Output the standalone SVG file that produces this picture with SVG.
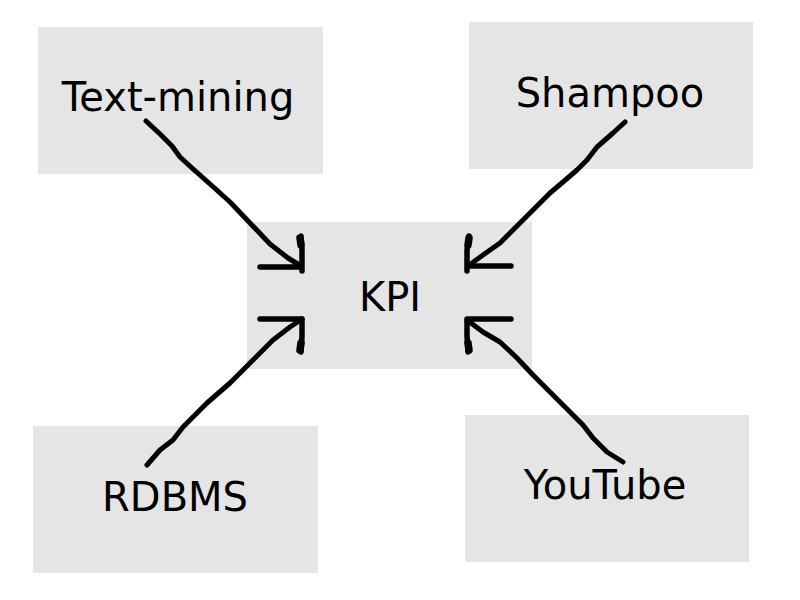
<svg xmlns="http://www.w3.org/2000/svg" width="800" height="600" viewBox="0 0 800 600">
<style>
.box{fill:#e5e5e5;stroke:none}
.lbl{font-family:"DejaVu Sans","Liberation Sans",sans-serif;font-size:40px;fill:#000;text-anchor:middle}
.wire{fill:none;stroke:#000;stroke-width:5;stroke-linecap:round;stroke-linejoin:round}
.head{fill:none;stroke:#000;stroke-width:5.5;stroke-linecap:round;stroke-linejoin:round}
.blob{fill:none;stroke:#000;stroke-width:7.5;stroke-linecap:round}
</style>
<rect width="800" height="600" fill="#fff"/>
<g id="node-textmining"><rect class="box" x="38" y="27" width="285" height="147"/><text class="lbl" x="178" y="111">Text-mining</text></g>
<g id="node-shampoo"><rect class="box" x="469" y="22" width="284" height="147"/><text class="lbl" x="610" y="107">Shampoo</text></g>
<g id="node-kpi"><rect class="box" x="247" y="222" width="285" height="147"/><text class="lbl" x="390" y="311">KPI</text></g>
<g id="node-rdbms"><rect class="box" x="33" y="426" width="285" height="147"/><text class="lbl" x="175" y="511">RDBMS</text></g>
<g id="node-youtube"><rect class="box" x="465" y="415" width="284" height="147"/><text class="lbl" x="605" y="499">YouTube</text></g>
<g id="connectors">
<path class="wire" d="M146,121 L160,134 L172,146 L180,157 L192,168 L210,184 L230,202 L250,223 L270,244 L288,258 L301,266"/>
<path class="head" d="M260,267 L302,267 M301,236 L302,250 L302,271"/>
<path class="blob" d="M300,238 L301,245"/>
<path class="wire" d="M625,122 L613,133 L597,147 L587,160 L577,170 L563,182 L550,193 L523,220 L500,243 L483,255 L468,266"/>
<path class="head" d="M511,266 L468,266 M469,236 L467,250 L467,271"/>
<path class="blob" d="M469,238 L468,245"/>
<path class="wire" d="M147,465 L160,450 L173,440 L183,427 L196,414 L207,403 L230,383 L250,363 L273,340 L290,327 L302,319"/>
<path class="head" d="M260,319 L302,319 M302,319 L302,336 L301,352"/>
<path class="blob" d="M301,343 L300,350"/>
<path class="wire" d="M623,462 L607,452 L593,438 L583,425 L560,402 L546,388 L533,375 L517,358 L500,342 L483,332 L467,320"/>
<path class="head" d="M511,319 L467,319 M467,319 L467,336 L468,352"/>
<path class="blob" d="M468,343 L469,350"/>
</g>
</svg>
